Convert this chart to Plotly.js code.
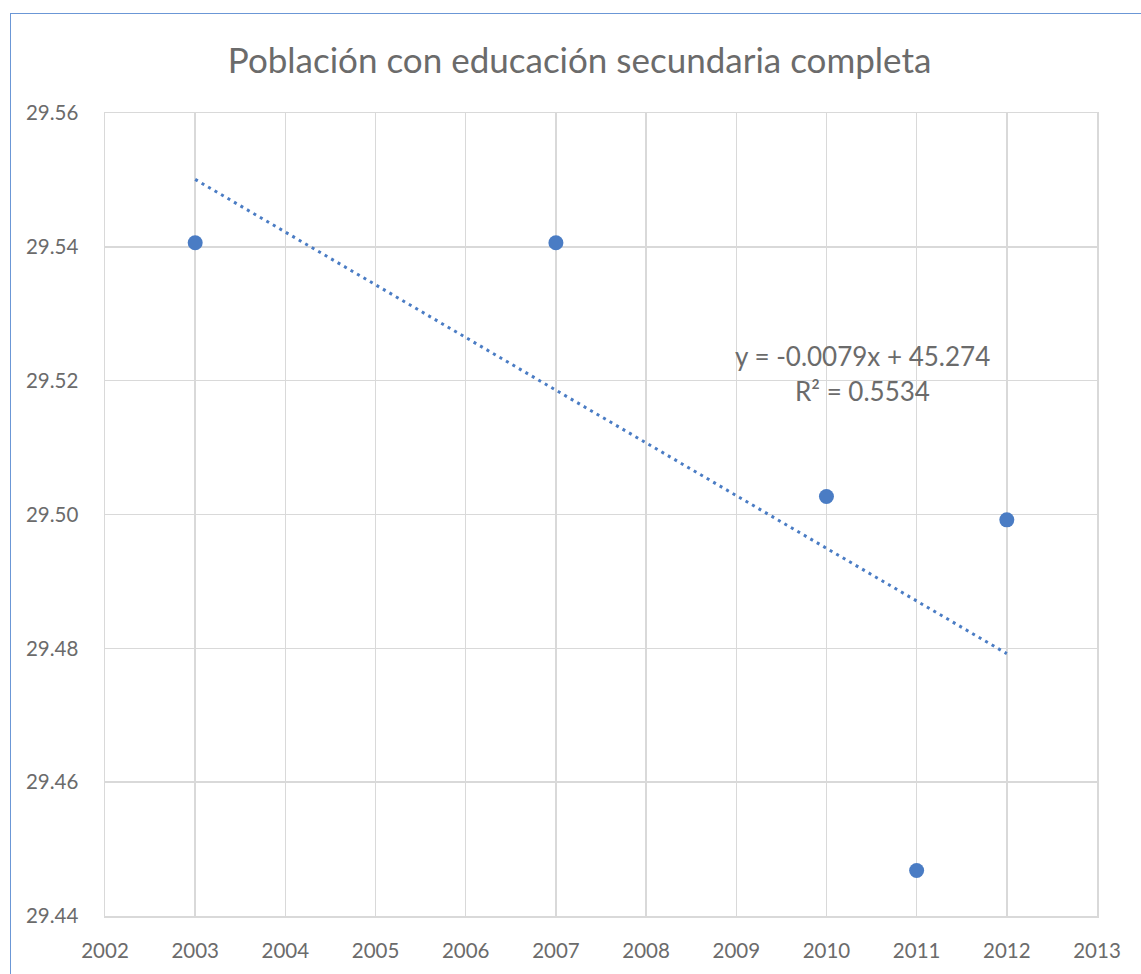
<!DOCTYPE html>
<html><head><meta charset="utf-8">
<script src="https://cdn.plot.ly/plotly-3.0.1.min.js"></script>
<style>
html,body{margin:0;padding:0;width:1141px;height:974px;overflow:hidden;background:#fff;}
#frame{position:absolute;left:10px;top:13px;width:1200px;height:1000px;border:1.5px solid #6b97d6;box-sizing:border-box;}
#chart{position:absolute;left:0;top:0;width:1141px;height:974px;}
</style></head>
<body>
<div id="frame"></div>
<div id="chart"></div>
<script>
const years = [2003, 2007, 2010, 2011, 2012];
const values = [29.5406, 29.5406, 29.5027, 29.4468, 29.4992];
const xTicks = [2002,2003,2004,2005,2006,2007,2008,2009,2010,2011,2012,2013];
const yTicks = [29.44,29.46,29.48,29.50,29.52,29.54,29.56];
const titleText = "Población con educación secundaria completa";
const eqText = "y = -0.0079x + 45.274";
const r2Text = "R² = 0.5534";

// least-squares trendline from data
const n = years.length;
const mx = years.reduce((a,b)=>a+b,0)/n;
const my = values.reduce((a,b)=>a+b,0)/n;
let sxy=0,sxx=0;
for(let i=0;i<n;i++){sxy+=(years[i]-mx)*(values[i]-my);sxx+=(years[i]-mx)**2;}
const slope = sxy/sxx, icpt = my - slope*mx;
const tx = [years[0], years[n-1]];
const ty = tx.map(x=>slope*x+icpt);

const font = "Lato, 'Open Sans', sans-serif";
const blue = "#4a7cc4";
const grid = "#d9d9d9";
const txt = "#6b6b6b";

const data = [
  {x: tx, y: ty, mode: "lines", line: {color: blue, width: 3, dash: "3px,4.5px"}, hoverinfo: "skip", showlegend: false},
  {x: years, y: values, mode: "markers", marker: {color: blue, size: 15}, showlegend: false}
];
const layout = {
  width: 1141, height: 974,
  margin: {l: 105, r: 44, t: 113, b: 58},
  paper_bgcolor: "rgba(0,0,0,0)", plot_bgcolor: "rgba(0,0,0,0)",
  font: {family: font, color: txt, size: 20.5},
  title: {text: titleText, font: {family: font, size: 35, color: txt}, x: 0.508, xanchor: "center", y: 0.938, yanchor: "middle"},
  xaxis: {range: [2002, 2013], tickvals: xTicks, ticktext: xTicks.map(String), showgrid: true, gridcolor: grid, gridwidth: 1.5,
          showline: true, linecolor: grid, linewidth: 1.5, mirror: true, zeroline: false, ticks: "", ticklabelstandoff: 16,
          tickfont: {size: 20.5, color: txt}},
  yaxis: {range: [29.44, 29.56], tickvals: yTicks, ticktext: yTicks.map(v=>v.toFixed(2)), showgrid: true, gridcolor: grid, gridwidth: 1.5,
          showline: true, linecolor: grid, linewidth: 1.5, mirror: true, zeroline: false, ticks: "", ticklabelstandoff: 21,
          tickfont: {size: 20.5, color: txt}},
  annotations: [
    {text: eqText, xref: "paper", yref: "paper", x: (862-105)/992, y: (916-356)/803, xanchor: "center", yanchor: "middle", showarrow: false, font: {size: 26, color: txt}},
    {text: r2Text, xref: "paper", yref: "paper", x: (862-105)/992, y: (916-391)/803, xanchor: "center", yanchor: "middle", showarrow: false, font: {size: 26, color: txt}}
  ]
};
Plotly.newPlot("chart", data, layout, {displayModeBar: false, staticPlot: true});
</script>
</body></html>
